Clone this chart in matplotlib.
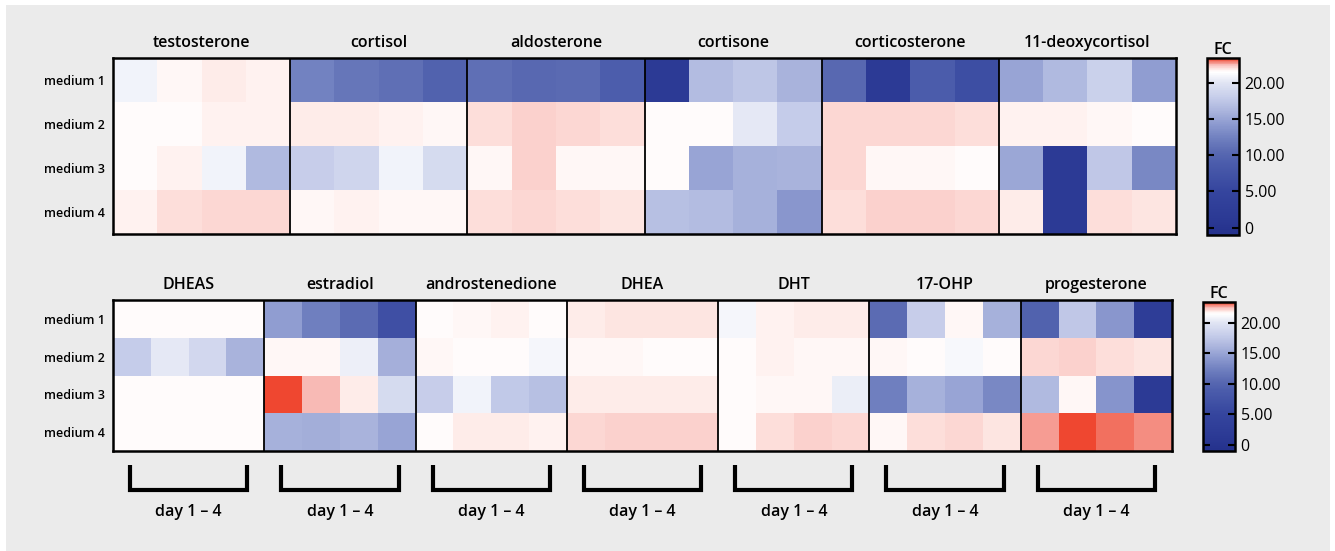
import matplotlib.pyplot as plt
import numpy as np
from matplotlib.cm import ScalarMappable
from matplotlib.colors import LinearSegmentedColormap, Normalize
from matplotlib.patches import Rectangle

W, H, DPI = 1335, 551, 100

MEDIA = ["medium 1", "medium 2", "medium 3", "medium 4"]
DAY_LABEL = "day 1 – 4"
CBAR_TICKS = [0, 5, 10, 15, 20]
CBAR_LABELS = ["0", "5.00", "10.00", "15.00", "20.00"]

# fold change, rows = medium 1-4, columns = day 1-4
testosterone = [[20.8, 21.6, 21.8, 21.7],
                [21.5, 21.55, 21.75, 21.7],
                [21.55, 21.7, 20.8, 16.5],
                [21.7, 22.0, 22.15, 22.1]]
cortisol = [[12.5, 11.5, 11.0, 9.5],
            [21.8, 21.8, 21.75, 21.65],
            [18.0, 18.7, 20.8, 19.2],
            [21.65, 21.7, 21.65, 21.6]]
aldosterone = [[11.0, 10.3, 10.5, 9.0],
               [22.05, 22.2, 22.1, 22.0],
               [21.6, 22.2, 21.65, 21.65],
               [22.05, 22.1, 22.05, 21.9]]
cortisone = [[1.5, 16.7, 17.4, 16.0],
             [21.5, 21.5, 20.2, 17.9],
             [21.5, 15.0, 15.8, 16.0],
             [17.0, 16.7, 15.8, 14.0]]
corticosterone = [[10.3, 1.5, 8.8, 6.5],
                  [22.1, 22.15, 22.1, 22.0],
                  [22.1, 21.6, 21.6, 21.5],
                  [22.0, 22.25, 22.25, 22.1]]
deoxycortisol = [[15.0, 16.5, 18.3, 14.5],
                 [21.7, 21.7, 21.65, 21.55],
                 [15.2, 1.5, 17.5, 13.0],
                 [21.8, 1.5, 22.0, 21.9]]

dheas = [[21.55, 21.55, 21.55, 21.55],
         [17.9, 20.2, 18.9, 16.0],
         [21.55, 21.55, 21.55, 21.5],
         [21.55, 21.55, 21.55, 21.5]]
estradiol = [[14.5, 12.3, 10.6, 6.7],
             [21.6, 21.6, 20.6, 15.7],
             [23.3, 22.5, 21.8, 19.2],
             [15.8, 15.6, 16.0, 15.0]]
androstenedione = [[21.55, 21.6, 21.7, 21.55],
                   [21.6, 21.55, 21.5, 21.0],
                   [18.0, 20.8, 17.6, 17.0],
                   [21.55, 21.8, 21.8, 21.7]]
dhea = [[21.8, 21.9, 21.9, 21.9],
        [21.65, 21.65, 21.5, 21.5],
        [21.8, 21.8, 21.8, 21.8],
        [22.1, 22.25, 22.25, 22.2]]
dht = [[21.0, 21.7, 21.85, 21.8],
       [21.55, 21.7, 21.6, 21.6],
       [21.5, 21.6, 21.6, 20.5],
       [21.55, 22.0, 22.2, 22.1]]
ohp17 = [[10.6, 18.0, 21.6, 15.8],
         [21.6, 21.55, 21.1, 21.5],
         [12.3, 15.8, 15.0, 13.0],
         [21.6, 22.05, 22.1, 21.9]]
progesterone = [[9.5, 17.5, 14.0, 2.5],
                [22.1, 22.25, 22.0, 21.9],
                [16.5, 21.6, 13.8, 1.5],
                [22.7, 23.3, 23.0, 22.8]]

TOP_NAMES = ["testosterone", "cortisol", "aldosterone", "cortisone",
             "corticosterone", "11-deoxycortisol"]
TOP_VALUES = [testosterone, cortisol, aldosterone, cortisone,
              corticosterone, deoxycortisol]
BOTTOM_NAMES = ["DHEAS", "estradiol", "androstenedione", "DHEA", "DHT",
                "17-OHP", "progesterone"]
BOTTOM_VALUES = [dheas, estradiol, androstenedione, dhea, dht, ohp17,
                 progesterone]

VMIN, VMAX = -1.0, 23.4
# blue -> white -> red, with white close to the top of the scale
NODES = [(-1.0, "#24318c"), (1.5, "#2c3a95"), (5.0, "#35459e"),
         (9.0, "#4c5dac"), (10.5, "#5a6ab2"), (12.3, "#6f7fbf"),
         (14.5, "#909dd1"), (16.0, "#a9b3dc"), (18.0, "#c6cdea"),
         (20.0, "#e0e4f3"), (21.5, "#ffffff"), (21.8, "#fff1ef"),
         (22.0, "#fde2de"), (22.5, "#f9c0bc"), (23.0, "#f27262"),
         (23.4, "#ee3a20")]
CMAP = LinearSegmentedColormap.from_list(
    "fc", [((v - VMIN) / (VMAX - VMIN), c) for v, c in NODES])
NORM = Normalize(VMIN, VMAX)

plt.rcParams["font.family"] = ["Open Sans", "DejaVu Sans"]
plt.rcParams["font.weight"] = 600


def box(x0, y0, x1, y1):
    return [x0 / W, 1 - y1 / H, (x1 - x0) / W, (y1 - y0) / H]


def draw_panel(ax, names, blocks):
    data = np.hstack([np.asarray(b, dtype=float) for b in blocks])
    ax.pcolormesh(data, cmap=CMAP, norm=NORM)
    ax.set_xlim(0, data.shape[1])
    ax.set_ylim(4, 0)
    for k in range(1, len(names)):
        ax.axvline(4 * k, color="black", lw=1.3)
    for k, name in enumerate(names):
        ax.annotate(name, xy=(4 * k + 2, 1), xycoords=("data", "axes fraction"),
                    xytext=(0, 5), textcoords="offset points",
                    ha="center", va="bottom", fontsize=11.5)
    ax.set_xticks([])
    ax.set_yticks(np.arange(4) + 0.5, MEDIA, fontsize=9)
    ax.tick_params(axis="y", length=0, pad=6)
    for s in ax.spines.values():
        s.set_linewidth(1.8)


def draw_colorbar(fig, cax):
    sm = ScalarMappable(norm=NORM, cmap=CMAP)
    cb = fig.colorbar(sm, cax=cax, ticks=CBAR_TICKS)
    cb.ax.set_yticklabels(CBAR_LABELS, fontsize=11.5, fontweight="medium")
    cb.ax.tick_params(direction="in", left=True, right=True, length=5,
                      width=1.5, pad=4)
    cb.outline.set_linewidth(1.8)
    cb.ax.set_title("FC", fontsize=11.5, fontweight=600, pad=1)


fig = plt.figure(figsize=(W / DPI, H / DPI), dpi=DPI, facecolor="white")
fig.patches.append(Rectangle((6 / W, 0), 1324 / W, 546 / H,
                             transform=fig.transFigure, fc="#ebebeb",
                             ec="none", zorder=-1))

ax_top = fig.add_axes(box(113, 58, 1176, 234))
draw_panel(ax_top, TOP_NAMES, TOP_VALUES)
draw_colorbar(fig, fig.add_axes(box(1207, 58, 1239, 235)))

ax_bot = fig.add_axes(box(113, 300, 1172, 451))
draw_panel(ax_bot, BOTTOM_NAMES, BOTTOM_VALUES)
draw_colorbar(fig, fig.add_axes(box(1203, 302, 1235, 451)))

# brackets marking the four days under each hormone
ax_br = fig.add_axes(box(113, 455, 1172, 535))
ax_br.set_xlim(0, 4 * len(BOTTOM_NAMES))
ax_br.set_ylim(535, 455)
ax_br.axis("off")
inset = 0.45
for k in range(len(BOTTOM_NAMES)):
    x0, x1 = 4 * k + inset, 4 * k + 4 - inset
    ax_br.plot([x0, x0, x1, x1], [465, 490, 490, 465], color="black", lw=3,
               solid_joinstyle="miter", solid_capstyle="butt")
    ax_br.text(4 * k + 2, 512, DAY_LABEL, ha="center", va="center",
               fontsize=11.5)

fig.savefig("out.png", dpi=DPI, facecolor=fig.get_facecolor())
